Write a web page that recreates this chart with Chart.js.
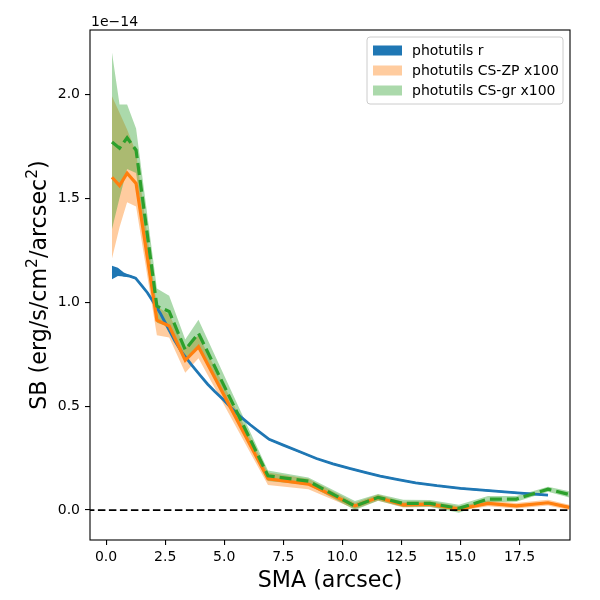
<!DOCTYPE html>
<html>
<head>
<meta charset="utf-8">
<script src="https://cdn.jsdelivr.net/npm/chart.js@4.4.1/dist/chart.umd.min.js"></script>
<style>
  html, body { margin: 0; padding: 0; background: #fff; }
  #wrap { width: 600px; height: 600px; }
</style>
</head>
<body>
<div id="wrap"><canvas id="sbChart" width="600" height="600"></canvas></div>
<script>
// values in units of 1e-14 erg/s/cm^2/arcsec^2

// photutils r profile
const rSma = [0.25, 0.5, 0.75, 1.0, 1.25, 1.5, 1.75, 2.0, 2.3, 2.6, 2.9, 3.2, 3.6, 4.0, 4.3, 4.6,
              5.0, 5.3, 5.7, 6.1, 6.5, 6.9, 7.5, 8.2, 8.9, 9.6, 10.3, 11.0, 11.6, 12.3, 13.1,
              14.0, 15.0, 16.2, 17.4, 18.7];
const rSb = [1.14, 1.14, 1.13, 1.125, 1.115, 1.08, 1.045, 1.0, 0.945, 0.88, 0.815, 0.76, 0.70, 0.645, 0.605, 0.57,
             0.527, 0.49, 0.448, 0.41, 0.375, 0.34, 0.312, 0.28, 0.248, 0.222, 0.2, 0.18, 0.163, 0.148, 0.131,
             0.117, 0.104, 0.093, 0.083, 0.072];
const rLow = [1.11, 1.125, 1.123, 1.12, 1.111, 1.076, 1.041, 0.996, 0.941, 0.876, 0.811, 0.756, 0.696, 0.641, 0.601, 0.566,
              0.523, 0.486, 0.444, 0.406, 0.371, 0.336, 0.308, 0.276, 0.244, 0.218, 0.196, 0.176, 0.159, 0.144, 0.127,
              0.113, 0.1, 0.089, 0.079, 0.068];
const rHigh = [1.175, 1.165, 1.142, 1.13, 1.119, 1.084, 1.049, 1.004, 0.949, 0.884, 0.819, 0.764, 0.704, 0.649, 0.609, 0.574,
               0.531, 0.494, 0.452, 0.414, 0.379, 0.344, 0.316, 0.284, 0.252, 0.226, 0.204, 0.184, 0.167, 0.152, 0.135,
               0.121, 0.108, 0.097, 0.087, 0.076];

// CS profiles (x100)
const csSma = [0.25, 0.57, 0.89, 1.27, 2.15, 2.67, 3.35, 3.91, 6.85, 8.56, 10.53, 11.51, 12.57, 13.7,
               14.93, 16.16, 17.36, 18.7, 19.6];
const zpSb = [1.60, 1.56, 1.62, 1.57, 0.913, 0.885, 0.72, 0.785, 0.15, 0.125, 0.02, 0.06, 0.025, 0.028,
              0.005, 0.032, 0.02, 0.035, 0.013];
const zpLow = [1.21, 1.36, 1.48, 1.46, 0.84, 0.83, 0.66, 0.73, 0.12, 0.10, 0.005, 0.045, 0.012, 0.015,
               -0.005, 0.018, 0.008, 0.022, 0.0];
const zpHigh = [1.99, 1.91, 1.83, 1.72, 0.98, 0.94, 0.78, 0.84, 0.18, 0.15, 0.035, 0.075, 0.04, 0.042,
                0.018, 0.046, 0.034, 0.05, 0.026];
const grSb = [1.77, 1.74, 1.79, 1.73, 0.98, 0.955, 0.77, 0.85, 0.165, 0.139, 0.019, 0.061, 0.032, 0.032,
              0.008, 0.053, 0.053, 0.10, 0.075];
const grLow = [1.35, 1.50, 1.64, 1.62, 0.90, 0.88, 0.72, 0.79, 0.14, 0.12, 0.0, 0.045, 0.015, 0.016,
               -0.013, 0.038, 0.04, 0.088, 0.06];
const grHigh = [2.20, 1.95, 1.95, 1.835, 1.065, 1.03, 0.82, 0.915, 0.19, 0.157, 0.043, 0.077, 0.05, 0.048,
                0.025, 0.067, 0.068, 0.112, 0.09];

const xTicks = [0.0, 2.5, 5.0, 7.5, 10.0, 12.5, 15.0, 17.5];
const yTicks = [0.0, 0.5, 1.0, 1.5, 2.0];
const xLimits = [-0.68, 19.63];
const yLimits = [-0.144, 2.308];

const legendLabels = ['photutils r', 'photutils CS-ZP x100', 'photutils CS-gr x100'];

const BLUE = '#1f77b4';
const ORANGE = '#ff7f0e';
const GREEN = '#2ca02c';
const FONT = '"DejaVu Sans", sans-serif';

const pts = (xs, ys) => xs.map((x, i) => ({x: x, y: ys[i]}));

function band(xs, lo, hi, color, order) {
    return [
        {data: pts(xs, lo), borderWidth: 0, pointRadius: 0, fill: false, order: order},
        {data: pts(xs, hi), borderWidth: 0, pointRadius: 0, fill: '-1', backgroundColor: color, order: order}
    ];
}

const datasets = [
    // index 0,1
    ...band(rSma, rLow, rHigh, BLUE, 10),
    // index 2,3
    ...band(csSma, zpLow, zpHigh, 'rgba(255,127,14,0.4)', 9),
    // index 4,5
    ...band(csSma, grLow, grHigh, 'rgba(44,160,44,0.4)', 8),
    {data: pts(rSma, rSb), borderColor: BLUE, borderWidth: 2.8, pointRadius: 0, fill: false, order: 3},
    {data: pts(csSma, zpSb), borderColor: ORANGE, borderWidth: 3.2, pointRadius: 0, fill: false, order: 2},
    {data: pts(csSma, grSb), borderColor: GREEN, borderWidth: 3.2, borderDash: [12, 5], pointRadius: 0, fill: false, order: 1},
    {data: [{x: -5, y: 0}, {x: 30, y: 0}], borderColor: '#000', borderWidth: 1.8, borderDash: [7.5, 3.5],
     pointRadius: 0, fill: false, order: 0}
];

const legendColors = [BLUE, 'rgba(255,127,14,0.4)', 'rgba(44,160,44,0.4)'];

// spines, axis titles, offset text and the legend box
const decorations = {
    id: 'decorations',
    afterDraw(chart) {
        const c = chart.ctx;
        const a = chart.chartArea;
        c.save();
        c.strokeStyle = '#000';
        c.lineWidth = 1.1;
        c.strokeRect(a.left, a.top, a.right - a.left, a.bottom - a.top);

        c.fillStyle = '#000';
        c.font = '14px ' + FONT;
        c.textAlign = 'left';
        c.textBaseline = 'alphabetic';
        c.fillText('1e\u221214', a.left + 1, 26);

        c.font = '22.2px ' + FONT;
        c.textAlign = 'center';
        c.fillText('SMA (arcsec)', (a.left + a.right) / 2, 587);

        // y title with superscripts
        const parts = [['SB (erg/s/cm', false], ['2', true], ['/arcsec', false], ['2', true], [')', false]];
        const mainFont = '22.2px ' + FONT;
        const supFont = '15.5px ' + FONT;
        let total = 0;
        parts.forEach(p => { c.font = p[1] ? supFont : mainFont; total += c.measureText(p[0]).width; });
        c.translate(46, (a.top + a.bottom) / 2);
        c.rotate(-Math.PI / 2);
        c.textAlign = 'left';
        let px = -total / 2;
        parts.forEach(p => {
            c.font = p[1] ? supFont : mainFont;
            c.fillText(p[0], px, p[1] ? -9.5 : 0);
            px += c.measureText(p[0]).width;
        });
        c.restore();

        // legend
        c.save();
        const bx = 367, by = 37, bw = 196, bh = 67, r = 3;
        c.beginPath();
        c.moveTo(bx + r, by);
        c.arcTo(bx + bw, by, bx + bw, by + bh, r);
        c.arcTo(bx + bw, by + bh, bx, by + bh, r);
        c.arcTo(bx, by + bh, bx, by, r);
        c.arcTo(bx, by, bx + bw, by, r);
        c.closePath();
        c.fillStyle = 'rgba(255,255,255,0.8)';
        c.fill();
        c.strokeStyle = '#cccccc';
        c.lineWidth = 1;
        c.stroke();
        c.font = '14px ' + FONT;
        c.textBaseline = 'middle';
        legendLabels.forEach((lab, i) => {
            const cy = 50.5 + i * 20;
            c.fillStyle = legendColors[i];
            c.fillRect(373, cy - 5, 29, 10);
            c.fillStyle = '#000';
            c.fillText(lab, 412, cy + 1);
        });
        c.restore();
    }
};

const ctx = document.getElementById('sbChart').getContext('2d');

const myChart = new Chart(ctx, {
    type: 'line',
    data: {datasets: datasets},
    options: {
        responsive: false,
        animation: false,
        layout: {padding: {left: 0, right: 30, top: 30, bottom: 0}},
        plugins: {legend: {display: false}, tooltip: {enabled: false}},
        scales: {
            x: {
                type: 'linear',
                min: xLimits[0],
                max: xLimits[1],
                afterBuildTicks: s => { s.ticks = xTicks.map(v => ({value: v})); },
                afterFit: s => { s.height = 60; },
                grid: {drawOnChartArea: false, drawTicks: true, tickLength: 5, color: '#000', lineWidth: 1.1},
                border: {display: false},
                ticks: {
                    color: '#000', padding: 4, maxRotation: 0,
                    font: {family: FONT, size: 14},
                    callback: v => v.toFixed(1)
                }
            },
            y: {
                type: 'linear',
                min: yLimits[0],
                max: yLimits[1],
                afterBuildTicks: s => { s.ticks = yTicks.map(v => ({value: v})); },
                afterFit: s => { s.width = 90; },
                grid: {drawOnChartArea: false, drawTicks: true, tickLength: 5, color: '#000', lineWidth: 1.1},
                border: {display: false},
                ticks: {
                    color: '#000', padding: 5,
                    font: {family: FONT, size: 14},
                    callback: v => v.toFixed(1)
                }
            }
        }
    },
    plugins: [decorations]
});
</script>
</body>
</html>
